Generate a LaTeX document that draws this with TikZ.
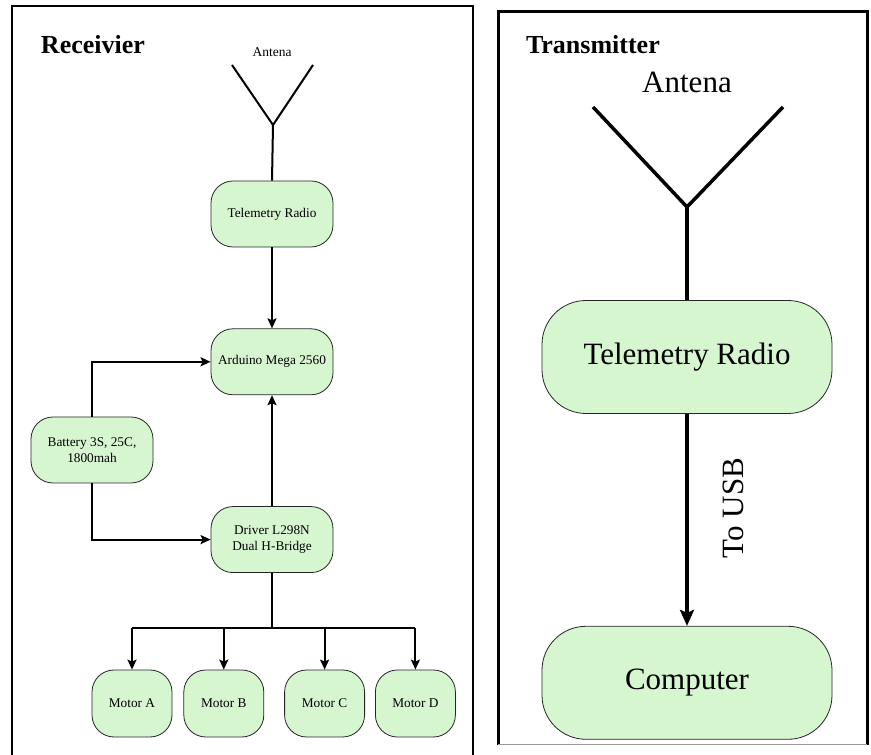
\documentclass[tikz,border=0pt]{standalone}
\usepackage{fontspec}
\setmainfont{Liberation Serif}
\usetikzlibrary{arrows.meta, positioning}

\definecolor{boxgreen}{RGB}{214,246,208}

\begin{document}
\begin{tikzpicture}[x=1pt, y=1pt, >={Stealth[length=10pt, width=9pt, inset=2pt]}, line width=2pt]
    % Style definitions
    \tikzset{box/.style={draw=black!85, line width=0.8pt, fill=boxgreen, rectangle, rounded corners=22pt, minimum height=66pt, minimum width=122pt, inner sep=2pt, align=center, font=\fontsize{13.3}{15.5}\selectfont}}
    \tikzset{motor/.style={box, minimum width=80pt, minimum height=67pt}}
    \tikzset{bigbox/.style={box, rounded corners=44pt, minimum height=113pt, minimum width=290pt, font=\fontsize{31}{36}\selectfont}}
    \tikzset{title/.style={font=\fontsize{26}{30}\selectfont\bfseries, anchor=west, inner sep=0pt}}
    \tikzset{arrow/.style={->}}
    \tikzset{bigarrow/.style={line width=3.5pt, ->, >={Stealth[length=16pt, width=14pt, inset=3pt]}}}

    \useasboundingbox (0,0) rectangle (871,755);
    \fill[white] (0,0) rectangle (871,755);

    % Frames
    \draw (12,-5) -- (12,749) -- (473,749) -- (473,-5);
    \draw[line width=3pt] (498,10) -- (498,743) -- (867,743) -- (867,10);
    \draw[black!40, line width=1pt] (498,10) -- (867,10);

    % Receiver side
    \node [title] (rxtitle) at (40,710) {Receivier};
    \node [font=\fontsize{13.5}{15}\selectfont] (antLlabel) at (272,703) {Antena};
    \coordinate (antLa) at (232,690);
    \coordinate (antLb) at (313,690);
    \coordinate (antLtip) at (273,630);
    \draw (antLa) -- (antLtip) -- (antLb);

    \node [box] (teleL) at (272,541) {Telemetry Radio};
    \node [box, below=81pt of teleL] (ardu) {Arduino Mega 2560};
    \node [box, below=111pt of ardu] (drv) {Driver L298N\\Dual H-Bridge};
    \node [box] (bat) at (92,305) {Battery 3S, 25C,\\1800mah};

    % Motors
    \node [motor] (motA) at (132,51.5) {Motor A};
    \node [motor, right=11pt of motA] (motB) {Motor B};
    \node [motor, right=20pt of motB] (motC) {Motor C};
    \node [motor, right=10pt of motC] (motD) {Motor D};

    % Arrows
    \draw (antLtip) -- (teleL.north);
    \draw [arrow] (teleL) -- (ardu);
    \draw [arrow] (drv) -- (ardu);
    \draw [arrow] (bat.north) |- (ardu.west);
    \draw [arrow] (bat.south) |- (drv.west);
    \coordinate (bus) at (272,127);
    \draw (drv.south) -- (bus);
    \draw (motA.north |- bus) -- (motD.north |- bus);
    \foreach \m in {motA, motB, motC, motD}
        \draw [arrow] (\m.north |- bus) -- (\m.north);

    % Transmitter side
    \node [title] (txtitle) at (525,710) {Transmitter};
    \node [font=\fontsize{31}{36}\selectfont] (antRlabel) at (687,673) {Antena};
    \coordinate (antRa) at (593,648);
    \coordinate (antRb) at (783,648);
    \coordinate (antRtip) at (687,548);
    \draw [line width=3.5pt] (antRa) -- (antRtip) -- (antRb);

    \node [bigbox] (teleR) at (687,398) {Telemetry Radio};
    \node [bigbox, below=212pt of teleR] (comp) {Computer};
    \draw [line width=3.5pt] (antRtip) -- (teleR.north);
    \draw [bigarrow] (teleR) -- (comp);
    \node [rotate=90, font=\fontsize{31}{36}\selectfont] (usb) at (733,247) {To USB};
\end{tikzpicture}
\end{document}
